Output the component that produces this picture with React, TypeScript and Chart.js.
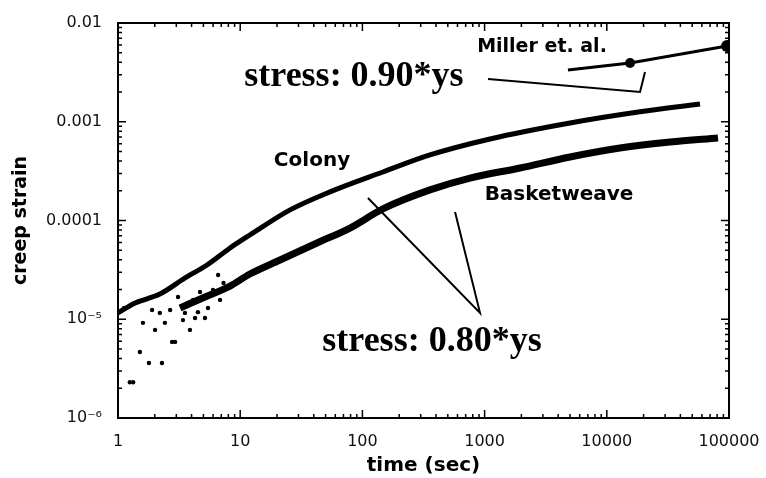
import React, { useEffect, useRef } from 'react';
import { Chart, registerables } from 'chart.js';
Chart.register(...registerables);

// Colony (0.80*ys)
const colonyTime = [1, 1.38, 2.2, 3.54, 5.35, 8.26, 12.0, 25.6, 54.3, 147, 357, 1107, 5000, 18700, 57900];
const colonyStrain = [1.16e-5, 1.46e-5, 1.8e-5, 2.62e-5, 3.54e-5, 5.27e-5, 7.13e-5, 1.28e-4, 1.95e-4, 3.1e-4, 4.61e-4, 6.69e-4, 9.71e-4, 1.26e-3, 1.51e-3];
// Basketweave (0.80*ys)
const basketTime = [3.22, 5.15, 8.26, 12.0, 21.2, 42.5, 79.2, 147, 357, 760, 1950, 5000, 12800, 32900, 81300];
const basketStrain = [1.3e-5, 1.68e-5, 2.17e-5, 2.87e-5, 3.98e-5, 5.92e-5, 8.39e-5, 1.31e-4, 2.04e-4, 2.69e-4, 3.4e-4, 4.4e-4, 5.42e-4, 6.24e-4, 6.85e-4];
// early scattered readings
const earlyTime = [1.25, 1.33, 1.51, 1.79, 2.29, 2.77, 2.93, 2.01, 1.6, 2.42, 1.9, 2.2, 2.67, 3.1, 3.88, 3.53, 3.4, 4.27, 3.74, 4.51, 5.15, 6.6, 7.3, 1.12, 1.45, 4.11, 4.69, 5.99, 6.84, 5.45];
const earlyStrain = [2.3e-6, 2.3e-6, 4.66e-6, 3.6e-6, 3.6e-6, 5.9e-6, 5.9e-6, 7.8e-6, 9.2e-6, 9.2e-6, 1.24e-5, 1.16e-5, 1.24e-5, 1.68e-5, 7.8e-6, 1.16e-5, 9.8e-6, 1.03e-5, 1.46e-5, 1.18e-5, 1.03e-5, 2.81e-5, 2.33e-5, 1.3e-5, 1.5e-5, 1.57e-5, 1.89e-5, 1.98e-5, 1.57e-5, 1.3e-5];
// Miller et. al. (0.90*ys)
const millerTime = [4810, 15500, 96400];
const millerStrain = [3.34e-3, 3.94e-3, 5.85e-3];
// annotation pointer lines (data coordinates)
const pointer90Time = [1066, 18700, 20550];
const pointer90Strain = [2.71e-3, 2.0e-3, 3.19e-3];
const pointer80Time = [111, 917, 573];
const pointer80Strain = [1.69e-4, 1.16e-5, 1.22e-4];

const xTickValues = [1, 10, 100, 1000, 10000, 100000];
const xTickLabels = ['1', '10', '100', '1000', '10000', '100000'];
const yTickValues = [1e-6, 1e-5, 1e-4, 1e-3, 1e-2];
const yTickLabels = ['10\u207B\u2076', '10\u207B\u2075', '0.0001', '0.001', '0.01'];

const labelTexts = ['Colony', 'Basketweave', 'Miller et. al.', 'stress: 0.90*ys', 'stress: 0.80*ys'];
const labelTime = [38.7, 4060, 2950, 85.3, 371];
const labelStrain = [4.0e-4, 1.81e-4, 5.71e-3, 2.84e-3, 5.89e-6];
const labelFonts = [
  'bold 20px "DejaVu Sans"',
  'bold 20px "DejaVu Sans"',
  'bold 19px "DejaVu Sans"',
  'bold 36px "Liberation Serif"',
  'bold 36px "Liberation Serif"',
];

const framePlugin = {
  id: 'frameTicks',
  afterDraw(chart: any) {
    const { ctx, chartArea: a, scales } = chart;
    const xs = scales.x;
    const ys = scales.y;
    ctx.save();
    ctx.strokeStyle = '#000';
    ctx.lineWidth = 2;
    ctx.strokeRect(a.left, a.top, a.right - a.left, a.bottom - a.top);
    ctx.lineWidth = 1.5;
    for (let d = 0; d <= 5; d++) {
      for (let m = 1; m <= 9; m++) {
        const v = m * Math.pow(10, d);
        if (v > 100000) break;
        const px = xs.getPixelForValue(v);
        const len = m === 1 ? 8 : 4;
        ctx.beginPath();
        ctx.moveTo(px, a.bottom);
        ctx.lineTo(px, a.bottom - len);
        ctx.moveTo(px, a.top);
        ctx.lineTo(px, a.top + len);
        ctx.stroke();
      }
    }
    for (let d = -6; d <= -2; d++) {
      for (let m = 1; m <= 9; m++) {
        const v = m * Math.pow(10, d);
        if (v > 0.0100001) break;
        const py = ys.getPixelForValue(v);
        const len = m === 1 ? 8 : 4;
        ctx.beginPath();
        ctx.moveTo(a.left, py);
        ctx.lineTo(a.left + len, py);
        ctx.moveTo(a.right, py);
        ctx.lineTo(a.right - len, py);
        ctx.stroke();
      }
    }
    ctx.fillStyle = '#000';
    ctx.textAlign = 'center';
    ctx.textBaseline = 'middle';
    for (let i = 0; i < labelTexts.length; i++) {
      ctx.font = labelFonts[i];
      ctx.fillText(labelTexts[i], xs.getPixelForValue(labelTime[i]), ys.getPixelForValue(labelStrain[i]));
    }
    ctx.restore();
  },
};

const zip = (xs: number[], ys: number[]) => xs.map((x, i) => ({ x, y: ys[i] }));

export default function App() {
  const ref = useRef<HTMLCanvasElement>(null);
  useEffect(() => {
    document.body.style.margin = '0';
    const chart = new Chart(ref.current as HTMLCanvasElement, {
      type: 'line',
      data: {
        datasets: [
          {
            label: 'Colony',
            data: zip(colonyTime, colonyStrain),
            borderColor: '#000',
            borderWidth: 5,
            pointRadius: 0,
            cubicInterpolationMode: 'monotone',
          },
          {
            label: 'Basketweave',
            data: zip(basketTime, basketStrain),
            borderColor: '#000',
            borderWidth: 7,
            pointRadius: 0,
            cubicInterpolationMode: 'monotone',
          },
          {
            label: 'early',
            data: zip(earlyTime, earlyStrain),
            showLine: false,
            pointRadius: 2.2,
            pointBackgroundColor: '#000',
            pointBorderWidth: 0,
            borderColor: '#000',
          },
          {
            label: 'Miller et. al.',
            data: zip(millerTime, millerStrain),
            borderColor: '#000',
            borderWidth: 3,
            pointRadius: [0, 5, 6],
            pointBackgroundColor: '#000',
            pointBorderWidth: 0,
            tension: 0,
          },
          {
            label: 'p90',
            data: zip(pointer90Time, pointer90Strain),
            borderColor: '#000',
            borderWidth: 2,
            pointRadius: 0,
            tension: 0,
          },
          {
            label: 'p80',
            data: zip(pointer80Time, pointer80Strain),
            borderColor: '#000',
            borderWidth: 2,
            pointRadius: 0,
            tension: 0,
          },
        ],
      } as any,
      options: {
        responsive: false,
        animation: false,
        devicePixelRatio: 1,
        layout: { padding: { top: 23, right: 37, left: 0, bottom: 0 } },
        plugins: { legend: { display: false }, tooltip: { enabled: false } },
        scales: {
          x: {
            type: 'logarithmic',
            min: 1,
            max: 100000,
            afterFit: (s: any) => { s.height = 60; s.paddingLeft = 0; s.paddingRight = 0; },
            afterBuildTicks: (s: any) => { s.ticks = xTickValues.map((v) => ({ value: v })); },
            ticks: {
              autoSkip: false,
              maxRotation: 0,
              padding: 14,
              color: '#111',
              font: { family: 'DejaVu Sans', size: 16 },
              callback: (v: any) => { const i = xTickValues.indexOf(Number(v)); return i >= 0 ? xTickLabels[i] : ''; },
            },
            grid: { display: false, drawTicks: false },
            border: { display: false },
            title: {
              display: true,
              text: 'time (sec)',
              color: '#000',
              font: { family: 'DejaVu Sans', size: 20, weight: 'bold' },
              padding: { top: 0, bottom: 0 },
            },
          },
          y: {
            type: 'logarithmic',
            min: 1e-6,
            max: 1e-2,
            afterFit: (s: any) => { s.width = 118; s.paddingTop = 0; s.paddingBottom = 0; },
            afterBuildTicks: (s: any) => { s.ticks = yTickValues.map((v) => ({ value: v })); },
            ticks: {
              autoSkip: false,
              padding: 16,
              color: '#111',
              font: { family: 'DejaVu Sans', size: 16 },
              callback: (v: any) => {
                const i = yTickValues.findIndex((t) => Math.abs(t - Number(v)) / t < 1e-6);
                return i >= 0 ? yTickLabels[i] : '';
              },
            },
            grid: { display: false, drawTicks: false },
            border: { display: false },
            title: {
              display: true,
              text: 'creep strain',
              color: '#000',
              font: { family: 'DejaVu Sans', size: 19, weight: 'bold' },
              padding: { top: 10, bottom: 0 },
            },
          },
        },
      } as any,
      plugins: [framePlugin],
    });
    return () => chart.destroy();
  }, []);
  return (
    <canvas ref={ref} width={766} height={478} style={{ position: 'absolute', left: 0, top: 0 }} />
  );
}
